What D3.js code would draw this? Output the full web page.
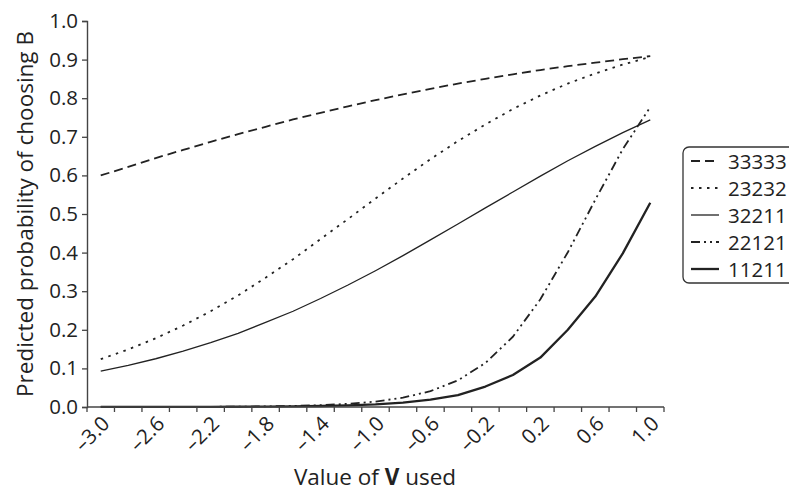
<!DOCTYPE html>
<html><head><meta charset="utf-8">
<script src="https://cdn.jsdelivr.net/npm/d3@7"></script>
<style>
html,body{margin:0;padding:0;background:#fff;}
svg{display:block;font-family:"Open Sans",sans-serif;}
</style></head>
<body><svg id="chart" width="789" height="490"></svg>
<script>
const vValues = [-3.0,-2.8,-2.6,-2.4,-2.2,-2.0,-1.8,-1.6,-1.4,-1.2,-1.0,-0.8,-0.6,-0.4,-0.2,0.0,0.2,0.4,0.6,0.8,1.0];
const tickLabelValues = [-3.0,-2.6,-2.2,-1.8,-1.4,-1.0,-0.6,-0.2,0.2,0.6,1.0];
const yTicks = [0,0.1,0.2,0.3,0.4,0.5,0.6,0.7,0.8,0.9,1.0];
const seriesNames = ["33333","23232","32211","22121","11211"];
const s33333 = [0.600,0.622,0.645,0.666,0.687,0.707,0.726,0.745,0.762,0.779,0.795,0.810,0.824,0.838,0.850,0.862,0.873,0.883,0.892,0.901,0.909];
const s23232 = [0.124,0.149,0.178,0.211,0.248,0.289,0.335,0.383,0.435,0.487,0.540,0.592,0.642,0.689,0.732,0.772,0.807,0.838,0.864,0.887,0.907];
const s32211 = [0.093,0.108,0.125,0.145,0.167,0.191,0.219,0.248,0.281,0.316,0.353,0.392,0.433,0.474,0.516,0.557,0.598,0.638,0.675,0.711,0.744];
const s22121 = [0.0001,0.0001,0.0002,0.0003,0.0005,0.0009,0.0016,0.0027,0.0047,0.0082,0.0141,0.0241,0.0411,0.0691,0.114,0.182,0.279,0.401,0.537,0.668,0.777];
const s11211 = [0.0001,0.0001,0.0002,0.0003,0.0004,0.0006,0.001,0.0016,0.0026,0.0043,0.007,0.0115,0.019,0.031,0.053,0.083,0.128,0.200,0.286,0.398,0.529];

const seriesData = [s33333,s23232,s32211,s22121,s11211];
const styles = [
  {dash:"9,5", w:1.8},
  {dash:"2.5,5.5", w:1.8},
  {dash:null, w:1.3},
  {dash:"9,4,2,4,2,4", w:1.8},
  {dash:null, w:2.3}
];
const ink = "#222";
const axisCol = "#444";
const tickFont = "20.5px", titleFont = "22.5px";

const svg = d3.select("#chart");
const mLeft = 87, mRight = 664, mTop = 21, mBottom = 407;

const x = d3.scaleBand().domain(vValues).range([mLeft, mRight]).padding(0);
const y = d3.scaleLinear().domain([0,1]).range([mBottom, mTop]);
const cx = v => x(v) + x.bandwidth()/2;

// series lines
const line = d3.line().x((d,i)=>cx(vValues[i])).y(d=>y(d));
seriesData.forEach((s,k)=>{
  svg.append("path").datum(s)
    .attr("d", line)
    .attr("fill","none")
    .attr("stroke", ink)
    .attr("stroke-width", styles[k].w)
    .attr("stroke-dasharray", styles[k].dash)
    .attr("stroke-linejoin","round");
});

// y axis
const yAxis = d3.axisLeft(y).tickValues(yTicks).tickFormat(d3.format(".1f")).tickSizeOuter(0).tickSize(5).tickPadding(4);
const gy = svg.append("g").attr("transform",`translate(${mLeft},0)`).call(yAxis);
gy.select(".domain").attr("stroke",axisCol).attr("stroke-width",1.4);
gy.selectAll(".tick line").attr("stroke",axisCol).attr("stroke-width",1.3);
gy.selectAll(".tick text").attr("fill","#222").style("font-size",tickFont).style("font-family","'Open Sans',sans-serif");

// x axis line and ticks at band edges
const gx = svg.append("g");
gx.append("line").attr("x1",mLeft).attr("x2",mRight).attr("y1",mBottom).attr("y2",mBottom)
  .attr("stroke",axisCol).attr("stroke-width",1.4);
const edges = vValues.map(v=>x(v)).concat([x(vValues[vValues.length-1])+x.bandwidth()]);
gx.selectAll("line.t").data(edges).enter().append("line").attr("class","t")
  .attr("x1",d=>d).attr("x2",d=>d).attr("y1",mBottom).attr("y2",mBottom+5)
  .attr("stroke",axisCol).attr("stroke-width",1.3);
gx.selectAll("text").data(tickLabelValues).enter().append("text")
  .attr("transform",d=>`translate(${cx(d)+10},${mBottom+18}) rotate(-45)`)
  .attr("text-anchor","end")
  .attr("fill","#222")
  .style("font-size",tickFont)
  .text(d=>d3.format(".1f")(d).replace("-","\u2013").replace("\u2212","\u2013"));

// axis titles
svg.append("text")
  .attr("transform",`translate(33,${(mTop+mBottom)/2}) rotate(-90)`)
  .attr("text-anchor","middle").attr("fill","#222").style("font-size",titleFont)
  .text("Predicted probability of choosing B");
const xt = svg.append("text").attr("x",375).attr("y",485).attr("text-anchor","middle")
  .attr("fill","#222").style("font-size",titleFont);
xt.append("tspan").text("Value of ");
xt.append("tspan").attr("font-weight","bold").text("V");
xt.append("tspan").text(" used");

// legend
const lg = svg.append("g");
lg.append("rect").attr("x",683).attr("y",147).attr("width",130).attr("height",136)
  .attr("rx",6).attr("fill","none").attr("stroke","#333").attr("stroke-width",1.3);
seriesNames.forEach((n,k)=>{
  const ly = 161 + k*27;
  lg.append("line").attr("x1",691).attr("x2",719).attr("y1",ly).attr("y2",ly)
    .attr("stroke",ink).attr("stroke-width",styles[k].w).attr("stroke-dasharray",styles[k].dash);
  lg.append("text").attr("x",728).attr("y",ly+7.5).attr("fill","#222").style("font-size",tickFont).text(n);
});
</script></body></html>
